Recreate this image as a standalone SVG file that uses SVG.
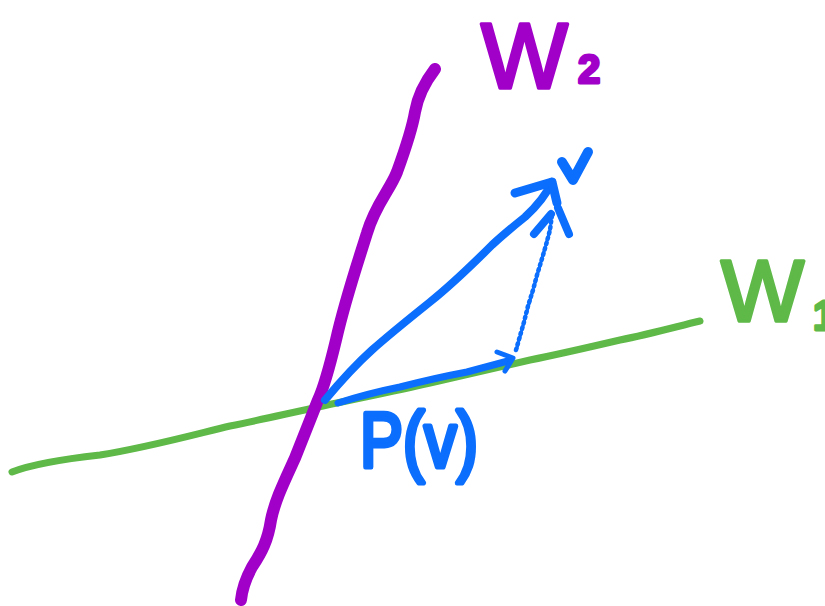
<svg xmlns="http://www.w3.org/2000/svg" width="825" height="606" viewBox="0 0 825 606">
<style>
.ln{fill:none;stroke-linecap:round;stroke-linejoin:round}
.purple{stroke:#A100C8}
.green{stroke:#5EB948}
.blue{stroke:#0B6EFD}
.lbl{font-family:"Liberation Sans",Arial,sans-serif;stroke-linejoin:round;stroke-linecap:round}
</style>
<rect width="825" height="606" fill="#ffffff"/>
<g id="line-W1">
<path class="ln green" stroke-width="7" d="M12,472 C30,465 55,460 100,455 C150,447 200,433 230,426 C260,420 290,413 323,406 C360,398 395,391 430,383 C465,375 500,367 530,360 C560,354 590,347 620,340 C650,334 675,327 700,321"/>
</g>
<g id="line-W2">
<path class="ln purple" stroke-width="12" d="M435,69 C425,82 418,95 415,112 C412,130 405,150 397,172 C390,190 375,205 367,233 C358,262 345,300 336,340 C330,365 325,385 318,400 C310,420 302,440 295,458 C285,480 275,500 271,520 C268,540 262,552 252,567 C246,578 242,590 241,600"/>
</g>
<g id="connectors">
<g id="vector-v">
<path class="ln blue" stroke-width="8" d="M325,400 C335,388 352,368 372,350 C390,334 410,318 430,302 C450,286 475,262 492,245 C505,233 515,225 525,217 C537,206 546,195 552,182"/>
<path class="ln blue" stroke-width="9" d="M515,193 L552,182 L557,203"/>
</g>
<g id="vector-Pv">
<path class="ln blue" stroke-width="7" d="M338,403 Q370,393 400,387 Q435,378 467,372 L508,361"/>
<path class="ln blue" stroke-width="5" d="M497,352 L513,358 L505,371"/>
</g>
<g id="projection">
<path class="ln blue" stroke-width="4.5" stroke-dasharray="1.5 4" d="M516,350 L520,336 L524,322 L528,306 L533,290 L537,275 L541,262 L546,245 L550,230 L552,215"/>
<path class="ln blue" stroke-width="3" stroke-dasharray="6 3" d="M517,348 L524,322 L533,290 L541,262 L550,230"/>
<path class="ln blue" stroke-width="8" d="M534,234 L551,214 M558,208 L569,234"/>
</g>
</g>
<g id="label-v">
<path class="ln blue" stroke-width="10" d="M562,162 L573,180 L588,152"/>
</g>
<g id="label-W2">
<text class="lbl" x="481" y="88" font-size="92" fill="#A100C8" stroke="#A100C8" stroke-width="3.5">W</text>
<text class="lbl" x="578" y="83" font-size="40" font-weight="bold" fill="#A100C8" stroke="#A100C8" stroke-width="3">2</text>
</g>
<g id="label-W1">
<text class="lbl" x="721" y="321" font-size="88" fill="#5EB948" stroke="#5EB948" stroke-width="3.5">W</text>
<text class="lbl" x="813" y="330" font-size="42" font-weight="bold" fill="#5EB948" stroke="#5EB948" stroke-width="3">1</text>
</g>
<g id="label-Pv">
<text class="lbl" x="360" y="467" font-size="78" textLength="118" lengthAdjust="spacingAndGlyphs" fill="#0B6EFD" stroke="#0B6EFD" stroke-width="5">P(v)</text>
</g>
</svg>
